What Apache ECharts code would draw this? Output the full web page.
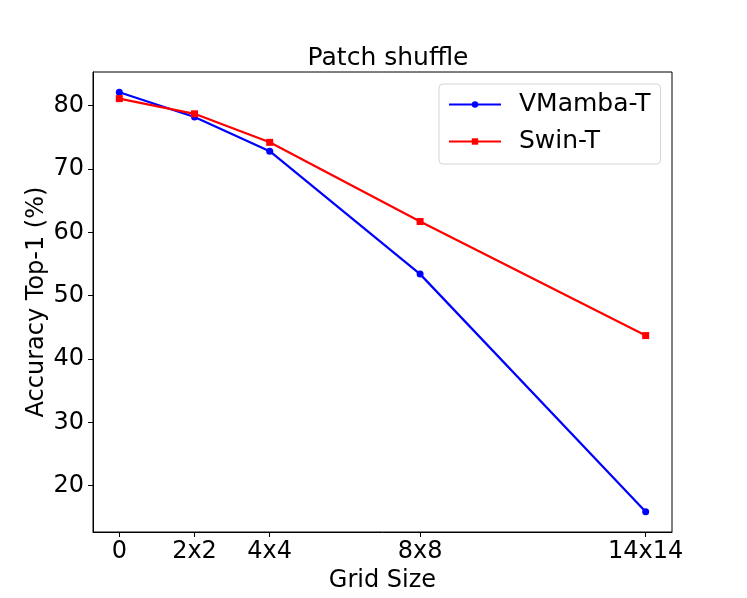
<!DOCTYPE html>
<html>
<head>
<meta charset="utf-8">
<title>Patch shuffle</title>
<script src="https://cdn.jsdelivr.net/npm/echarts@6/dist/echarts.min.js"></script>
<style>
  html, body { margin: 0; padding: 0; background: #fff; }
  #chart { width: 747px; height: 598px; }
</style>
</head>
<body>
<div id="chart"></div>
<script>
// grid size n for an n x n shuffle (0 = no shuffle)
const gridSizes = [0, 2, 4, 8, 14];
const gridLabels = ['0', '2x2', '4x4', '8x8', '14x14'];
const vmambaAcc = [82.1, 78.2, 72.8, 53.4, 15.9];
const swinAcc = [81.1, 78.7, 74.2, 61.7, 43.7];
const yTicks = [20, 30, 40, 50, 60, 70, 80];

const font = 'DejaVu Sans';

function pairs(xs, ys) {
  return xs.map((x, i) => [x, ys[i]]);
}

const chart = echarts.init(document.getElementById('chart'), null, { renderer: 'canvas' });

const option = {
  backgroundColor: '#fff',
  animation: false,
  title: {
    text: 'Patch shuffle',
    left: 383,
    top: 41,
    textAlign: 'center',
    textStyle: { fontFamily: font, fontSize: 25, fontWeight: 'normal', color: '#000' }
  },
  legend: {
    orient: 'vertical',
    left: 439,
    top: 84,
    padding: [8, 10, 10, 9],
    itemGap: 12,
    itemWidth: 52,
    itemHeight: 8,
    backgroundColor: '#fff',
    borderColor: '#d6d6d6',
    borderWidth: 1,
    borderRadius: 4,
    textStyle: { fontFamily: font, fontSize: 25, color: '#000', padding: [0, 0, 0, 13] },
    data: ['VMamba-T', 'Swin-T']
  },
  grid: {
    left: 93,
    top: 72,
    right: 75,
    bottom: 66,
    show: true,
    borderColor: '#000',
    borderWidth: 1,
    containLabel: false
  },
  xAxis: {
    type: 'value',
    min: -0.7,
    max: 14.7,
    name: 'Grid Size',
    nameLocation: 'middle',
    nameGap: 37,
    nameMoveOverlap: false,
    nameTextStyle: { fontFamily: font, fontSize: 24, color: '#000' },
    splitLine: { show: false },
    axisLine: { show: true, onZero: false, lineStyle: { color: '#000', width: 1 } },
    axisTick: { show: true, length: 5, lineStyle: { color: '#000' }, customValues: gridSizes },
    axisLabel: {
      fontFamily: font, fontSize: 24, color: '#000', margin: 8,
      customValues: gridSizes,
      formatter: v => gridLabels[gridSizes.indexOf(v)]
    }
  },
  yAxis: {
    type: 'value',
    min: 12.7,
    max: 85.3,
    name: 'Accuracy Top-1 (%)',
    nameLocation: 'middle',
    nameGap: 44,
    nameMoveOverlap: false,
    nameTextStyle: { fontFamily: font, fontSize: 24, color: '#000' },
    splitLine: { show: false },
    axisLine: { show: true, onZero: false, lineStyle: { color: '#000', width: 1 } },
    axisTick: { show: true, length: 5, lineStyle: { color: '#000' }, customValues: yTicks },
    axisLabel: {
      fontFamily: font, fontSize: 24, color: '#000', margin: 9,
      customValues: yTicks
    }
  },
  series: [
    {
      name: 'VMamba-T',
      type: 'line',
      data: pairs(gridSizes, vmambaAcc),
      symbol: 'circle',
      symbolSize: 7,
      showAllSymbol: true,
      lineStyle: { color: '#0000ff', width: 2.2 },
      itemStyle: { color: '#0000ff' }
    },
    {
      name: 'Swin-T',
      type: 'line',
      data: pairs(gridSizes, swinAcc),
      symbol: 'rect',
      symbolSize: 7,
      showAllSymbol: true,
      lineStyle: { color: '#ff0000', width: 2.2 },
      itemStyle: { color: '#ff0000' }
    }
  ]
};

chart.setOption(option);
</script>
</body>
</html>
